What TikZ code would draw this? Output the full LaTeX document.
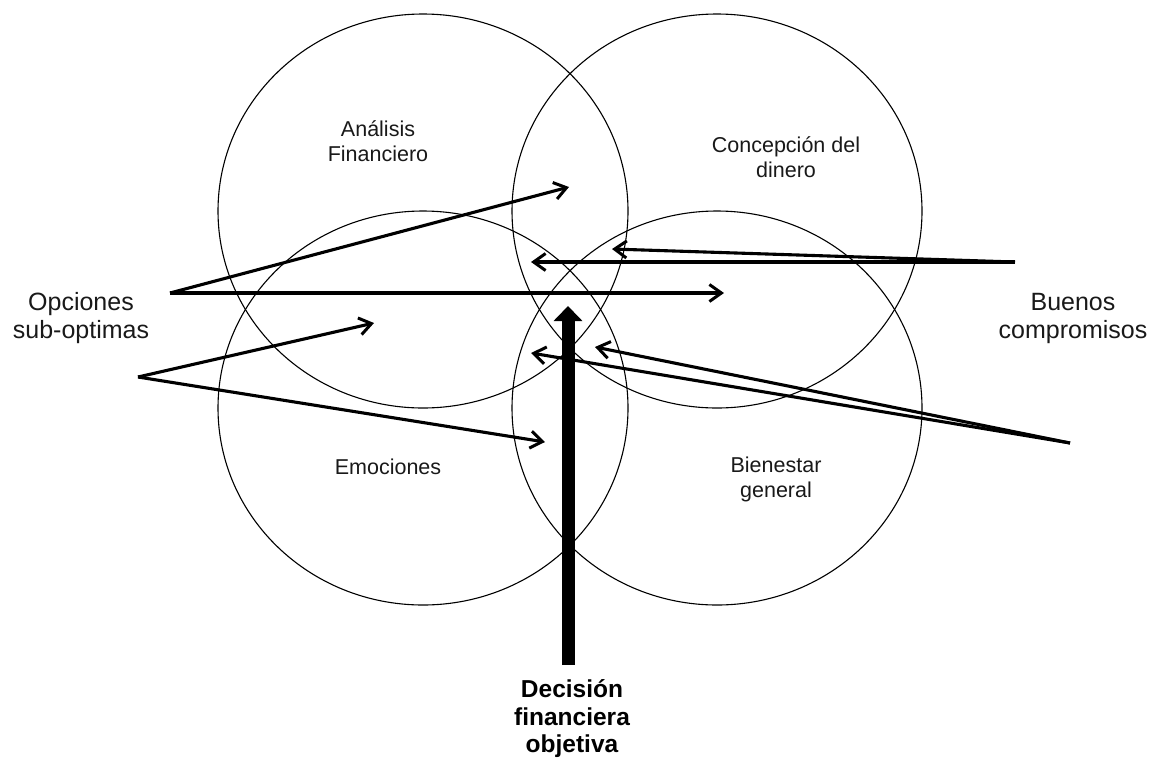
\documentclass[tikz,border=0pt]{standalone}
\usepackage{fontspec}
\setmainfont{Liberation Sans}
\usetikzlibrary{arrows.meta}
\tikzset{
  ring/.style={line width=1.1pt, draw=black},
  thin arrow/.style={line width=3.1pt, -{Straight Barb[length=12pt,width=17pt,line width=3pt]}},
  big arrow/.style={line width=13pt, -{Triangle[length=15pt,width=28pt]}},
  ringlabel/.style={align=center, inner sep=0pt, font=\fontsize{21.5}{25}\selectfont, text=black!90},
  sidelabel/.style={align=center, inner sep=0pt, font=\fontsize{25}{28}\selectfont, text=black!90},
  mainlabel/.style={align=center, inner sep=0pt, font=\fontsize{24.5}{27.5}\selectfont\bfseries, text=black}
}
\begin{document}
\begin{tikzpicture}[x=1pt,y=-1pt]
\useasboundingbox (0,0) rectangle (1151,761);
% ellipses
\draw[ring] (423,211) ellipse [x radius=205pt, y radius=197pt];
\draw[ring] (717,211) ellipse [x radius=205pt, y radius=197pt];
\draw[ring] (423,408) ellipse [x radius=205pt, y radius=197pt];
\draw[ring] (717,408) ellipse [x radius=205pt, y radius=197pt];
% labels
\node[ringlabel] (analisis) at (378,141) {Análisis\\Financiero};
\node[ringlabel] (concepcion) at (786,157) {Concepción del\\dinero};
\node[ringlabel] (emociones) at (388,467) {Emociones};
\node[ringlabel] (bienestar) at (776,479) {Bienestar\\general};
\node[sidelabel] (opciones) at (81,318) {Opciones\\sub-optimas};
\node[sidelabel] (buenos) at (1073,318) {Buenos\\compromisos};
\node[mainlabel] (decision) at (572,719) {Decisión\\financiera\\objetiva};
% connector points
\coordinate (oU) at (170,293);
\coordinate (oL) at (138,377);
\coordinate (bU) at (1015,262);
\coordinate (bL) at (1070,443);
\coordinate (t1) at (569,187);
\coordinate (t2) at (724,293);
\coordinate (t3) at (374,323);
\coordinate (t4) at (545,442);
\coordinate (t5) at (612,249);
\coordinate (t6) at (531,262);
\coordinate (t7) at (595,347);
\coordinate (t8) at (531,353);
\coordinate (dB) at (568,665);
\coordinate (dT) at (568,306);
% arrows
\draw[thin arrow] (oU) -- (t1);
\draw[thin arrow] (oU) -- (t2);
\draw[thin arrow] (oL) -- (t3);
\draw[thin arrow] (oL) -- (t4);
\draw[thin arrow] (bU) -- (t5);
\draw[thin arrow] (bU) -- (t6);
\draw[thin arrow] (bL) -- (t7);
\draw[thin arrow] (bL) -- (t8);
\draw[big arrow] (dB) -- (dT);
\end{tikzpicture}
\end{document}
